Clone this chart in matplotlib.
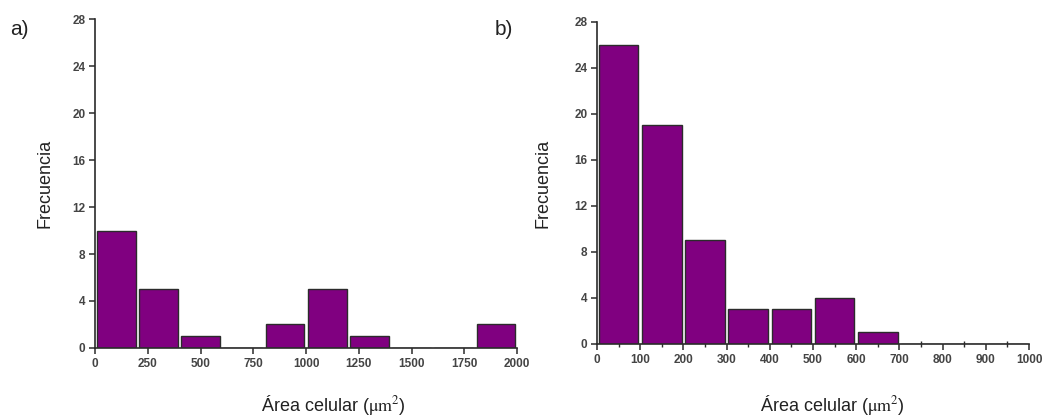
import numpy as np
import matplotlib
matplotlib.use("Agg")
import matplotlib.pyplot as plt
from matplotlib.ticker import MultipleLocator

plt.rcParams["font.family"] = ["Liberation Sans", "DejaVu Sans"]
plt.rcParams["mathtext.fontset"] = "stix"

# panel a) : bins de 200 um^2
bins_a = [0, 200, 400, 600, 800, 1000, 1200, 1400, 1600, 1800, 2000]
counts_a = [10, 5, 1, 0, 2, 5, 1, 0, 0, 2]

# panel b) : bins de 100 um^2
bins_b = [0, 100, 200, 300, 400, 500, 600, 700, 800, 900, 1000]
counts_b = [26, 19, 9, 3, 3, 4, 1, 0, 0, 0]

yticks = [0, 4, 8, 12, 16, 20, 24, 28]

BAR = "#800080"
EDGE = "#2b2b2b"
TXT = "#444444"

fig = plt.figure(figsize=(10.43, 4.19), dpi=100)
ax_a = fig.add_axes([0.0911, 0.1695, 0.4046, 0.785])
ax_b = fig.add_axes([0.5724, 0.179, 0.4142, 0.7685])


def draw_hist(ax, bins, counts, major, minor, xlab_xy, ylab_x):
    bins = np.asarray(bins, dtype=float)
    w = np.diff(bins)
    centers = bins[:-1] + w / 2
    ax.bar(centers, counts, width=w * 0.92, color=BAR, edgecolor=EDGE,
           linewidth=1.0, zorder=2)
    ax.set_xlim(bins[0], bins[-1])
    ax.set_ylim(0, 28)
    ax.set_yticks(yticks)
    ax.xaxis.set_major_locator(MultipleLocator(major))
    if minor:
        ax.xaxis.set_minor_locator(MultipleLocator(minor))
        ax.tick_params(axis="x", which="minor", direction="inout",
                       length=4, width=1.0, color=EDGE)
    for s in ("top", "right"):
        ax.spines[s].set_visible(False)
    for s in ("left", "bottom"):
        ax.spines[s].set_linewidth(1.2)
        ax.spines[s].set_color(EDGE)
        ax.spines[s].set_zorder(3)
    ax.tick_params(axis="both", which="major", direction="out", length=4,
                   width=1.1, color=EDGE, labelsize=8.5, labelcolor=TXT, pad=3)
    for lab in ax.get_xticklabels() + ax.get_yticklabels():
        lab.set_fontweight("bold")
    ax.set_ylabel("Frecuencia", fontsize=13, color="#222222", va="center")
    ax.yaxis.set_label_coords(ylab_x, 0.5)
    ax.set_xlabel(r"Área celular ($\mathrm{\mu m}^2$)", fontsize=13,
                  color="#222222", va="center")
    ax.xaxis.set_label_coords(*xlab_xy)


draw_hist(ax_a, bins_a, counts_a, 250, None, (0.566, -0.172), -0.118)
draw_hist(ax_b, bins_b, counts_b, 100, 50, (0.544, -0.188), -0.125)

fig.text(0.010, 0.93, "a)", fontsize=15, color="#222222", va="center")
fig.text(0.474, 0.93, "b)", fontsize=15, color="#222222", va="center")

fig.savefig("out.png", dpi=100)
